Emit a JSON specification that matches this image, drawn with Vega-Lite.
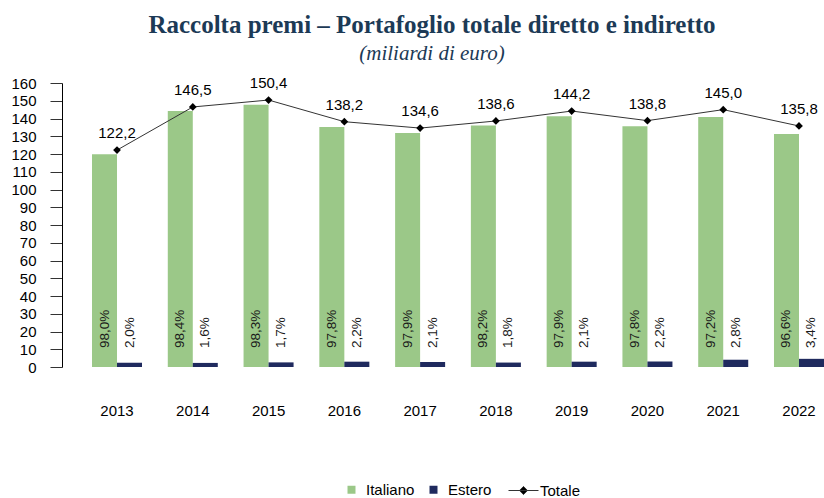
{
  "$schema": "https://vega.github.io/schema/vega-lite/v6.json",
  "width": 762,
  "height": 284,
  "autosize": {"type": "none"},
  "padding": {"left": 62, "top": 83, "right": 0, "bottom": 131},
  "background": "white",
  "title": {
    "text": "Raccolta premi – Portafoglio totale diretto e indiretto",
    "subtitle": "(miliardi di euro)",
    "font": "Liberation Serif",
    "fontSize": 25,
    "fontWeight": "bold",
    "color": "#1C3A56",
    "subtitleFont": "Liberation Serif",
    "subtitleFontSize": 21,
    "subtitleFontStyle": "italic",
    "subtitleColor": "#1C3A56",
    "subtitlePadding": 5,
    "anchor": "middle",
    "dx": -11,
    "offset": 12
  },
  "config": {
    "view": {"stroke": null},
    "font": "Liberation Sans",
    "axis": {"grid": false, "title": null, "labelFont": "Liberation Sans", "labelFontSize": 15, "labelColor": "#000000", "labelOverlap": false},
    "legend": {"labelFont": "Liberation Sans", "labelFontSize": 15, "labelColor": "#000000"}
  },
  "datasets": {
    "bars": [
      {"anno": "2013", "serie": "Italiano", "valore": 119.8, "quota": "98,0%"},
      {"anno": "2013", "serie": "Estero", "valore": 2.4, "quota": "2,0%"},
      {"anno": "2014", "serie": "Italiano", "valore": 144.2, "quota": "98,4%"},
      {"anno": "2014", "serie": "Estero", "valore": 2.3, "quota": "1,6%"},
      {"anno": "2015", "serie": "Italiano", "valore": 147.8, "quota": "98,3%"},
      {"anno": "2015", "serie": "Estero", "valore": 2.6, "quota": "1,7%"},
      {"anno": "2016", "serie": "Italiano", "valore": 135.2, "quota": "97,8%"},
      {"anno": "2016", "serie": "Estero", "valore": 3.0, "quota": "2,2%"},
      {"anno": "2017", "serie": "Italiano", "valore": 131.8, "quota": "97,9%"},
      {"anno": "2017", "serie": "Estero", "valore": 2.8, "quota": "2,1%"},
      {"anno": "2018", "serie": "Italiano", "valore": 136.1, "quota": "98,2%"},
      {"anno": "2018", "serie": "Estero", "valore": 2.5, "quota": "1,8%"},
      {"anno": "2019", "serie": "Italiano", "valore": 141.2, "quota": "97,9%"},
      {"anno": "2019", "serie": "Estero", "valore": 3.0, "quota": "2,1%"},
      {"anno": "2020", "serie": "Italiano", "valore": 135.7, "quota": "97,8%"},
      {"anno": "2020", "serie": "Estero", "valore": 3.1, "quota": "2,2%"},
      {"anno": "2021", "serie": "Italiano", "valore": 140.9, "quota": "97,2%"},
      {"anno": "2021", "serie": "Estero", "valore": 4.1, "quota": "2,8%"},
      {"anno": "2022", "serie": "Italiano", "valore": 131.2, "quota": "96,6%"},
      {"anno": "2022", "serie": "Estero", "valore": 4.6, "quota": "3,4%"}
    ],
    "totale": [
      {"anno": "2013", "totale": 122.2, "etichetta": "122,2"},
      {"anno": "2014", "totale": 146.5, "etichetta": "146,5"},
      {"anno": "2015", "totale": 150.4, "etichetta": "150,4"},
      {"anno": "2016", "totale": 138.2, "etichetta": "138,2"},
      {"anno": "2017", "totale": 134.6, "etichetta": "134,6"},
      {"anno": "2018", "totale": 138.6, "etichetta": "138,6"},
      {"anno": "2019", "totale": 144.2, "etichetta": "144,2"},
      {"anno": "2020", "totale": 138.8, "etichetta": "138,8"},
      {"anno": "2021", "totale": 145.0, "etichetta": "145,0"},
      {"anno": "2022", "totale": 135.8, "etichetta": "135,8"}
    ]
  },
  "encoding": {
    "x": {
      "field": "anno",
      "type": "nominal",
      "scale": {"type": "band", "paddingInner": 0.34, "paddingOuter": 0.198, "align": 1},
      "axis": {"domain": false, "ticks": false, "labelAngle": 0, "labelPadding": 36}
    }
  },
  "layer": [
    {
      "data": {"name": "bars"},
      "mark": {"type": "bar"},
      "encoding": {
        "xOffset": {"field": "serie", "type": "nominal", "scale": {"domain": ["Italiano", "Estero"], "paddingInner": 0, "paddingOuter": 0}},
        "y": {
          "field": "valore",
          "type": "quantitative",
          "scale": {"domain": [0, 160], "nice": false},
          "axis": {
            "values": [0, 10, 20, 30, 40, 50, 60, 70, 80, 90, 100, 110, 120, 130, 140, 150, 160],
            "tickCount": 17,
            "labelOverlap": false,
            "domainColor": "#000000",
            "tickColor": "#333333",
            "tickSize": 12,
            "labelPadding": 14
          }
        },
        "color": {
          "field": "serie",
          "type": "nominal",
          "scale": {"domain": ["Italiano", "Estero"], "range": ["#9BC888", "#1F2A5E"]},
          "legend": {
            "title": null,
            "orient": "none",
            "direction": "horizontal",
            "legendX": 282,
            "legendY": 399,
            "symbolType": "square",
            "symbolSize": 64,
            "symbolStrokeWidth": 0,
            "columnPadding": 11,
            "labelOffset": 7
          }
        }
      }
    },
    {
      "data": {"name": "bars"},
      "mark": {"type": "text", "angle": 270, "align": "left", "baseline": "middle", "dx": 19, "fontSize": 13.5, "color": "#1a1a1a"},
      "encoding": {
        "xOffset": {"field": "serie", "type": "nominal"},
        "y": {"datum": 0},
        "text": {"field": "quota"}
      }
    },
    {
      "data": {"name": "totale"},
      "mark": {"type": "line", "strokeWidth": 1},
      "encoding": {
        "y": {"field": "totale", "type": "quantitative"},
        "stroke": {
          "datum": "Totale",
          "scale": {"range": ["#333333"]},
          "legend": {
            "title": null,
            "orient": "none",
            "legendX": 446,
            "legendY": 392,
            "symbolType": "M-1,0L1,0M0,-0.27L0.27,0L0,0.27L-0.27,0Z",
            "symbolSize": 900,
            "symbolStrokeWidth": 1,
            "symbolStrokeColor": "#000000",
            "labelOffset": 1,
            "encode": {"symbols": {"update": {"fill": {"value": "#000000"}, "stroke": {"value": "#000000"}}}}
          }
        }
      }
    },
    {
      "data": {"name": "totale"},
      "mark": {"type": "point", "shape": "diamond", "filled": true, "size": 60, "color": "#000000", "opacity": 1},
      "encoding": {
        "y": {"field": "totale", "type": "quantitative"}
      }
    },
    {
      "data": {"name": "totale"},
      "mark": {"type": "text", "baseline": "middle", "dy": -17, "fontSize": 15, "color": "#000000"},
      "encoding": {
        "y": {"field": "totale", "type": "quantitative"},
        "text": {"field": "etichetta"}
      }
    }
  ]
}
